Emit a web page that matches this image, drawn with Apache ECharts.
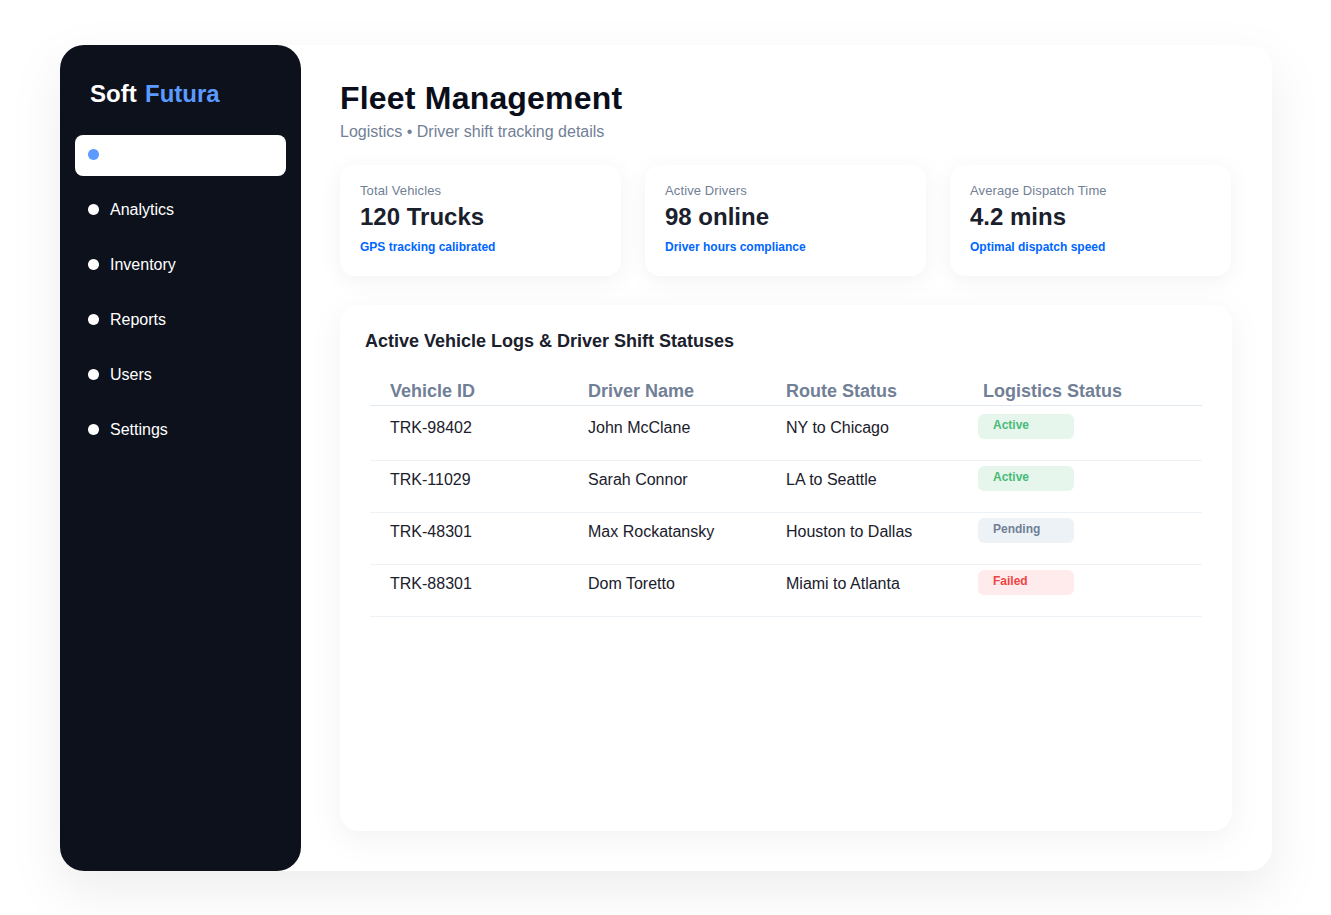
<!DOCTYPE html>
<html>
<head>
<meta charset="utf-8">
<title>Fleet Management</title>
<script src="https://cdn.jsdelivr.net/npm/echarts@6/dist/echarts.min.js"></script>
<style>
  html, body { margin: 0; padding: 0; background: #fff; }
  #main { width: 1331px; height: 915px; }
  #main text[style*="32px"] { letter-spacing: 0.2px; }
  #main text[style*="13px"] { letter-spacing: 0.12px; }
</style>
</head>
<body>
<div id="main"></div>
<script>
var navItems = ['', 'Analytics', 'Inventory', 'Reports', 'Users', 'Settings'];

var statLabels = ['Total Vehicles', 'Active Drivers', 'Average Dispatch Time'];
var statValues = ['120 Trucks', '98 online', '4.2 mins'];
var statNotes = ['GPS tracking calibrated', 'Driver hours compliance', 'Optimal dispatch speed'];

var tableHeaders = ['Vehicle ID', 'Driver Name', 'Route Status', 'Logistics Status'];
var vehicleIds = ['TRK-98402', 'TRK-11029', 'TRK-48301', 'TRK-88301'];
var driverNames = ['John McClane', 'Sarah Connor', 'Max Rockatansky', 'Dom Toretto'];
var routes = ['NY to Chicago', 'LA to Seattle', 'Houston to Dallas', 'Miami to Atlanta'];
var statuses = ['Active', 'Active', 'Pending', 'Failed'];

var FONT = '"Liberation Sans", Arial, sans-serif';
var statusColors = {
    Active: { bg: '#e6f6ed', fg: '#48bb78' },
    Pending: { bg: '#edf2f7', fg: '#718096' },
    Failed: { bg: '#ffebeb', fg: '#f04444' }
};

var els = [];

function box(x, y, w, h, r, fill, shadow) {
    var style = { fill: fill };
    if (shadow) {
        style.shadowBlur = shadow.blur;
        style.shadowOffsetY = shadow.y;
        style.shadowColor = shadow.color;
    }
    els.push({ type: 'rect', shape: { x: x, y: y, width: w, height: h, r: r }, style: style });
}

function label(x, y, str, size, weight, color) {
    els.push({
        type: 'text', x: x, y: y,
        style: { text: str, fontFamily: FONT, fontSize: size, fontWeight: weight, fill: color, align: 'left', verticalAlign: 'middle' }
    });
}

function hline(y, color) {
    els.push({ type: 'rect', shape: { x: 370, y: y, width: 832, height: 1 }, style: { fill: color } });
}

// 外框
box(60, 45, 1212, 826, 24, '#ffffff', { blur: 50, y: 20, color: 'rgba(0,0,0,0.07)' });

// 侧边栏
box(60, 45, 241, 826, 24, '#0d111c');
label(90, 93, 'Soft', 24, 'bold', '#ffffff');
label(145, 93, 'Futura', 24, 'bold', '#5b9bff');
box(75, 135, 211, 41, 8, '#ffffff');
navItems.forEach(function (name, i) {
    var cy = 154.5 + i * 55;
    els.push({
        type: 'circle', shape: { cx: 93.5, cy: cy, r: 5.5 },
        style: { fill: i === 0 ? '#5b9bff' : '#ffffff' }
    });
    if (name) label(110, cy, name, 16, 'normal', '#ffffff');
});

// 标题
label(340, 98, 'Fleet Management', 32, 'bold', '#0a0e1a');
label(340, 131, 'Logistics \u2022 Driver shift tracking details', 16, 'normal', '#718096');

// 统计卡片
statLabels.forEach(function (name, i) {
    var x = 340 + i * 305;
    box(x, 165, 281, 111, 16, '#ffffff', { blur: 20, y: 4, color: 'rgba(0,0,0,0.05)' });
    label(x + 20, 190.5, name, 13, 'normal', '#718096');
    label(x + 20, 216, statValues[i], 24, 'bold', '#1a202c');
    label(x + 20, 247, statNotes[i], 12, 'bold', '#0066ff');
});

// 表格卡片
box(340, 305, 892, 526, 20, '#ffffff', { blur: 30, y: 8, color: 'rgba(0,0,0,0.05)' });
label(365, 341, 'Active Vehicle Logs & Driver Shift Statuses', 18, 'bold', '#1a202c');

var colX = [390, 588, 786, 983];
tableHeaders.forEach(function (h, i) {
    label(colX[i], 391, h, 18, 'bold', '#718096');
});
hline(405, '#e2e8f0');

vehicleIds.forEach(function (id, i) {
    var textY = 427 + 52 * i;
    var rowTop = 414 + 52 * i;
    label(colX[0], textY, id, 16, 'normal', '#1a202c');
    label(colX[1], textY, driverNames[i], 16, 'normal', '#1a202c');
    label(colX[2], textY, routes[i], 16, 'normal', '#1a202c');
    var c = statusColors[statuses[i]];
    box(978, rowTop, 96, 25, 6, c.bg);
    label(993, rowTop + 11, statuses[i], 12, 'bold', c.fg);
    hline(460 + 52 * i, '#edf2f7');
});

var chart = echarts.init(document.getElementById('main'), null, { renderer: 'svg' });
chart.setOption({
    animation: false,
    backgroundColor: '#ffffff',
    graphic: { elements: els }
});
</script>
</body>
</html>
